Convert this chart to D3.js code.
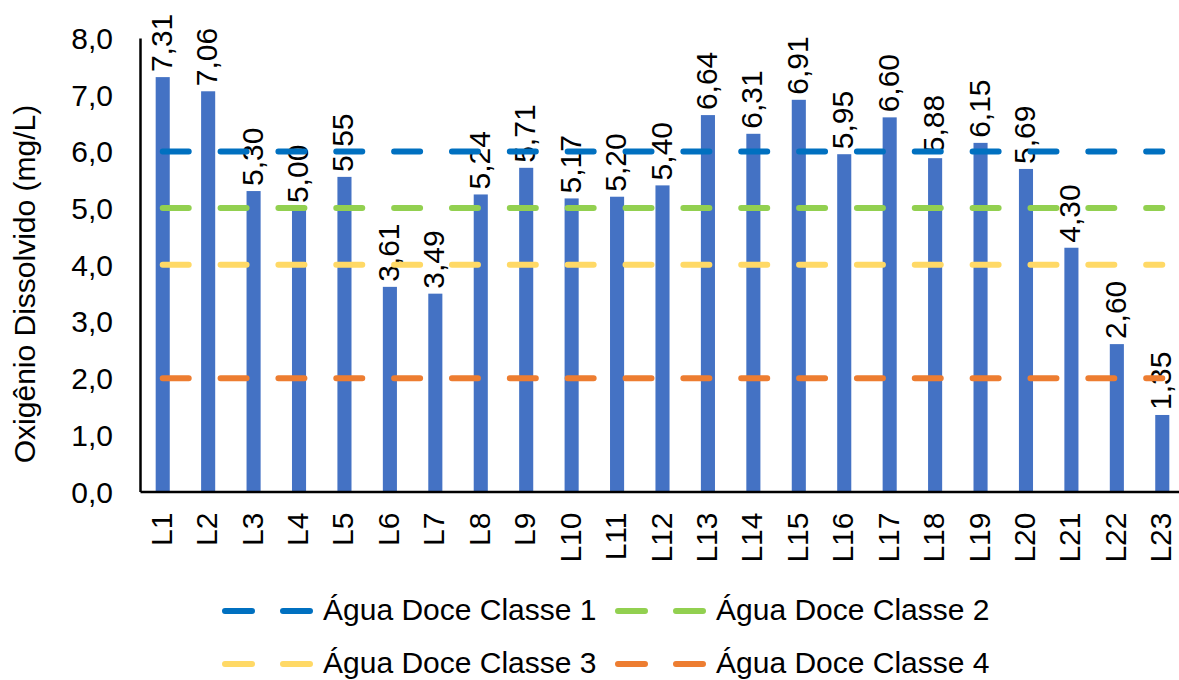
<!DOCTYPE html>
<html>
<head>
<meta charset="utf-8">
<script src="https://cdn.jsdelivr.net/npm/d3@7"></script>
<style>
  html, body { margin: 0; padding: 0; background: #fff; }
  svg { display: block; }
  text { font-family: "Liberation Sans", Arial, sans-serif; fill: #000; }
</style>
</head>
<body>
<svg id="chart" width="1179" height="680"></svg>
<script>
const categories = ["L1","L2","L3","L4","L5","L6","L7","L8","L9","L10","L11","L12","L13","L14","L15","L16","L17","L18","L19","L20","L21","L22","L23"];
const values = [7.31,7.06,5.30,5.00,5.55,3.61,3.49,5.24,5.71,5.17,5.20,5.40,6.64,6.31,6.91,5.95,6.60,5.88,6.15,5.69,4.30,2.60,1.35];
const limitNames = ["Água Doce Classe 1","Água Doce Classe 2","Água Doce Classe 3","Água Doce Classe 4"];
const limitValues = [6, 5, 4, 2];
const limitColors = ["#0070C0","#92D050","#FFD966","#ED7D31"];
const yTicks = [0,1,2,3,4,5,6,7,8];
const yTitle = "Oxigênio Dissolvido (mg/L)";

const svg = d3.select("#chart");
const fs = 30;
const fmt = v => d3.format(".2f")(v).replace(".", ",");
const fmtTick = v => d3.format(".1f")(v).replace(".", ",");

const x = d3.scaleBand().domain(categories).range([140, 1185]).paddingInner(0.69).paddingOuter(0.345);
const y = d3.scaleLinear().domain([0, 8]).range([491.5, 38]);

// bars
svg.append("g").selectAll("rect").data(values).join("rect")
  .attr("x", (d,i) => x(categories[i]))
  .attr("width", x.bandwidth())
  .attr("y", d => y(d))
  .attr("height", d => y(0) - y(d))
  .attr("fill", "#4472C4");

// data labels
svg.append("g").selectAll("text").data(values).join("text")
  .attr("transform", (d,i) => `translate(${x(categories[i]) + x.bandwidth()/2},${y(d) - 5}) rotate(-90)`)
  .attr("dy", "0.3em")
  .attr("text-anchor", "start")
  .style("font-size", fs + "px")
  .text(d => fmt(d));

// limit lines
const x0 = x(categories[0]) + x.bandwidth()/2;
const x1 = x(categories[categories.length-1]) + x.bandwidth()/2;
svg.append("g").selectAll("line").data(limitValues).join("line")
  .attr("x1", x0).attr("x2", x1)
  .attr("y1", d => y(d)).attr("y2", d => y(d))
  .attr("stroke", (d,i) => limitColors[i])
  .attr("stroke-width", 6)
  .attr("stroke-linecap", "round")
  .attr("stroke-dasharray", "26 31.85");

// axes
const yAxis = d3.axisLeft(y).tickValues(yTicks).tickFormat(fmtTick).tickSize(0).tickPadding(27);
const gy = svg.append("g").attr("transform", "translate(140,0)").call(yAxis);
gy.select(".domain").attr("stroke", "#000").attr("stroke-width", 2.5);
gy.selectAll("text").style("font-size", fs + "px").attr("dy", "0.35em").style("font-family", '"Liberation Sans", Arial, sans-serif');

const xAxis = d3.axisBottom(x).tickSize(0).tickPadding(0);
const gx = svg.append("g").attr("transform", `translate(0,${y(0)})`).call(xAxis);
gx.select(".domain").attr("stroke", "#000").attr("stroke-width", 2.5);
gx.selectAll("text")
  .style("font-size", fs + "px")
  .style("font-family", '"Liberation Sans", Arial, sans-serif')
  .attr("text-anchor", "end")
  .attr("y", 0).attr("dy", "0.3em")
  .attr("transform", "translate(0,21) rotate(-90)");

// y title
svg.append("text")
  .attr("transform", `translate(35,${284}) rotate(-90)`)
  .attr("text-anchor", "middle")
  .style("font-size", fs + "px")
  .text(yTitle);

// legend
const legPos = [[225, 611], [618, 611], [225, 664], [618, 664]];
const leg = svg.append("g").selectAll("g").data(limitNames).join("g")
  .attr("transform", (d,i) => `translate(${legPos[i][0]},${legPos[i][1]})`);
leg.append("line")
  .attr("x1", 0).attr("x2", 85).attr("y1", 0).attr("y2", 0)
  .attr("stroke", (d,i) => limitColors[i])
  .attr("stroke-width", 6)
  .attr("stroke-linecap", "round")
  .attr("stroke-dasharray", "27 31");
leg.append("text")
  .attr("x", 98).attr("y", 9)
  .style("font-size", fs + "px")
  .text(d => d);
</script>
</body>
</html>
